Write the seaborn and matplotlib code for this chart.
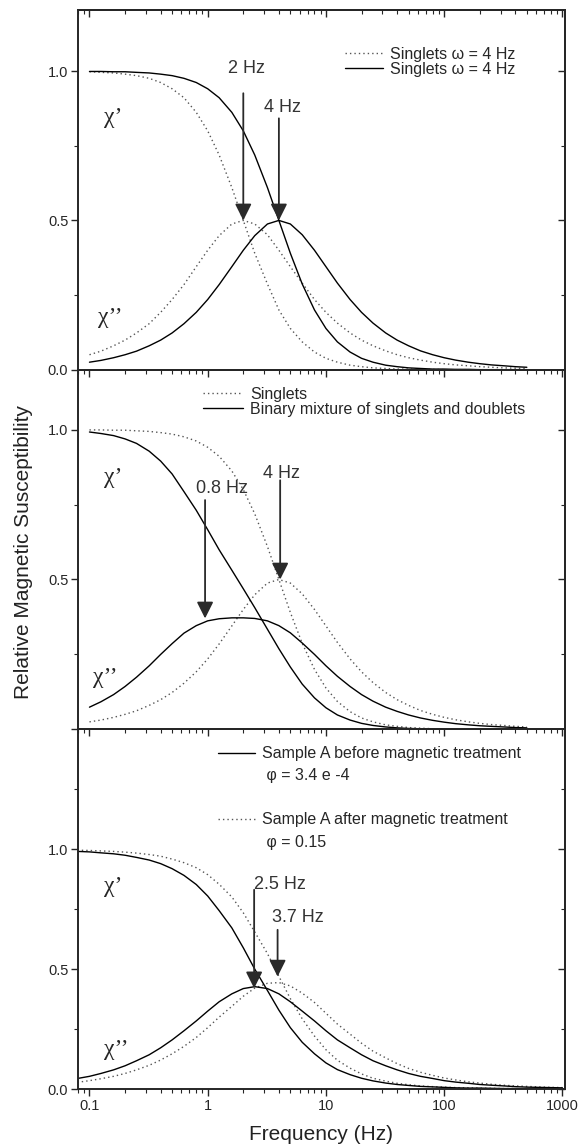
import numpy as np
import pandas as pd
import seaborn as sns
import matplotlib.pyplot as plt
from matplotlib.ticker import FixedLocator, LogLocator, NullFormatter, FuncFormatter
from matplotlib.lines import Line2D

# frequency grid (Hz) of the curves in the two upper panels
freq = [0.1, 0.125, 0.16, 0.2, 0.25, 0.32, 0.4, 0.5, 0.63, 0.8, 1, 1.25, 1.6, 2, 2.5, 3.2, 4, 5,
        6.3, 8, 10, 12.5, 16, 20, 25, 32, 40, 50, 63, 80, 100, 125, 160, 200, 250, 320, 400, 500]
# the bottom panel curves run from the left edge up to 1000 Hz
freq_b = [0.079] + freq + [630, 800, 1000]

# singlets, peak at 2 Hz (top panel, dotted)
s2_re = [0.998, 0.996, 0.994, 0.990, 0.985, 0.976, 0.962, 0.941, 0.911, 0.862, 0.800, 0.719, 0.610,
         0.500, 0.390, 0.287, 0.200, 0.138, 0.093, 0.059, 0.038, 0.025, 0.015, 0.010, 0.006, 0.004,
         0.002, 0.002, 0.001, 0.001, 0.000, 0.000, 0.000, 0.000, 0.000, 0.000, 0.000, 0.000]
s2_im = [0.050, 0.062, 0.080, 0.099, 0.123, 0.154, 0.192, 0.235, 0.285, 0.345, 0.400, 0.449, 0.488,
         0.500, 0.488, 0.452, 0.400, 0.345, 0.290, 0.235, 0.192, 0.156, 0.123, 0.099, 0.080, 0.063,
         0.050, 0.040, 0.032, 0.025, 0.020, 0.016, 0.013, 0.010, 0.008, 0.006, 0.005, 0.004]
# singlets, peak at 4 Hz (top panel solid, middle panel dotted)
s4_re = [0.999, 0.999, 0.998, 0.998, 0.996, 0.994, 0.990, 0.985, 0.976, 0.962, 0.941, 0.911, 0.862,
         0.800, 0.719, 0.610, 0.500, 0.390, 0.287, 0.200, 0.138, 0.093, 0.059, 0.038, 0.025, 0.015,
         0.010, 0.006, 0.004, 0.002, 0.002, 0.001, 0.001, 0.000, 0.000, 0.000, 0.000, 0.000]
s4_im = [0.025, 0.031, 0.040, 0.050, 0.062, 0.080, 0.099, 0.123, 0.154, 0.192, 0.235, 0.285, 0.345,
         0.400, 0.449, 0.488, 0.500, 0.488, 0.452, 0.400, 0.345, 0.290, 0.235, 0.192, 0.156, 0.123,
         0.099, 0.080, 0.063, 0.050, 0.040, 0.032, 0.025, 0.020, 0.016, 0.013, 0.010, 0.008]
# binary mixture of singlets and doublets (middle panel, solid)
mix_re = [0.992, 0.987, 0.980, 0.969, 0.954, 0.928, 0.895, 0.852, 0.793, 0.731, 0.666, 0.599, 0.531,
          0.469, 0.406, 0.334, 0.269, 0.208, 0.151, 0.105, 0.072, 0.048, 0.031, 0.020, 0.013, 0.008,
          0.005, 0.003, 0.002, 0.001, 0.001, 0.000, 0.000, 0.000, 0.000, 0.000, 0.000, 0.000]
mix_im = [0.074, 0.092, 0.116, 0.143, 0.174, 0.212, 0.250, 0.286, 0.321, 0.346, 0.362, 0.369, 0.372,
          0.372, 0.370, 0.362, 0.346, 0.322, 0.288, 0.250, 0.212, 0.177, 0.143, 0.116, 0.094, 0.074,
          0.060, 0.048, 0.038, 0.030, 0.024, 0.019, 0.015, 0.012, 0.010, 0.008, 0.006, 0.005]
# sample A before magnetic treatment (bottom panel, solid)
before_re = [0.991, 0.989, 0.985, 0.981, 0.975, 0.966, 0.955, 0.940, 0.919, 0.891, 0.853, 0.805,
             0.744, 0.672, 0.589, 0.500, 0.411, 0.329, 0.256, 0.195, 0.147, 0.109, 0.081, 0.060,
             0.045, 0.034, 0.025, 0.019, 0.015, 0.011, 0.009, 0.007, 0.005, 0.004, 0.004, 0.003,
             0.002, 0.002, 0.001, 0.001, 0.001, 0.001]
before_im = [0.044, 0.053, 0.065, 0.080, 0.097, 0.118, 0.143, 0.172, 0.205, 0.243, 0.284, 0.325,
             0.364, 0.397, 0.419, 0.427, 0.419, 0.397, 0.364, 0.325, 0.284, 0.243, 0.205, 0.172,
             0.143, 0.118, 0.097, 0.080, 0.065, 0.053, 0.044, 0.035, 0.029, 0.024, 0.019, 0.016,
             0.013, 0.010, 0.008, 0.007, 0.006, 0.005]
# sample A after magnetic treatment (bottom panel, dotted)
after_re = [0.996, 0.995, 0.993, 0.991, 0.988, 0.984, 0.978, 0.971, 0.959, 0.944, 0.923, 0.894,
            0.854, 0.801, 0.735, 0.655, 0.565, 0.470, 0.377, 0.293, 0.221, 0.164, 0.120, 0.087,
            0.063, 0.045, 0.033, 0.024, 0.018, 0.013, 0.010, 0.008, 0.006, 0.005, 0.004, 0.003,
            0.002, 0.002, 0.001, 0.001, 0.001, 0.001]
after_im = [0.028, 0.035, 0.043, 0.053, 0.065, 0.080, 0.099, 0.121, 0.147, 0.178, 0.215, 0.256,
            0.300, 0.345, 0.387, 0.421, 0.441, 0.444, 0.430, 0.400, 0.361, 0.316, 0.271, 0.229,
            0.191, 0.158, 0.130, 0.106, 0.086, 0.070, 0.057, 0.046, 0.038, 0.030, 0.025, 0.020,
            0.016, 0.013, 0.011, 0.009, 0.007, 0.006]

legend_top = ["Singlets \u03c9 = 4 Hz", "Singlets \u03c9 = 4 Hz"]
legend_mid = ["Singlets", "Binary mixture of singlets and doublets"]
legend_bot = ["Sample A before magnetic treatment", " \u03c6 = 3.4 e -4",
              "Sample A after magnetic treatment", " \u03c6 = 0.15"]

# arrows: (frequency, tail, tip, label, label x, label y)
arrows_top = [(2.0, 0.926, 0.50, "2 Hz", 2.12, 1.01), (4.0, 0.842, 0.50, "4 Hz", 4.33, 0.879)]
arrows_mid = [(0.95, 0.765, 0.37, "0.8 Hz", 1.32, 0.805), (4.1, 0.831, 0.50, "4 Hz", 4.24, 0.855)]
arrows_bot = [(2.47, 0.831, 0.42, "2.5 Hz", 4.08, 0.852), (3.9, 0.664, 0.469, "3.7 Hz", 5.78, 0.714)]

sns.set_style("ticks")
plt.rcParams["font.family"] = ["Liberation Sans", "DejaVu Sans"]

fig, axes = plt.subplots(3, 1, figsize=(5.8, 11.46), dpi=100, sharex=True)
fig.subplots_adjust(left=0.1345, right=0.974, top=0.9913, bottom=0.0497, hspace=0)

solid = dict(color="black", linewidth=1.0)
dotted = dict(color="#555555", linewidth=1.0, linestyle=(0, (1, 2.2)))


def draw(ax, x, re, im, style):
    sns.lineplot(x=x, y=re, ax=ax, sort=False, estimator=None, **style)
    sns.lineplot(x=x, y=im, ax=ax, sort=False, estimator=None, **style)


def style_axis(ax, ylim, major, minor, labels):
    ax.set_xscale("log")
    ax.set_xlim(0.08, 1050)
    ax.set_ylim(*ylim)
    ax.yaxis.set_major_locator(FixedLocator(major))
    ax.yaxis.set_minor_locator(FixedLocator(minor))
    ax.set_yticklabels(labels)
    ax.xaxis.set_major_locator(LogLocator(base=10, numticks=10))
    ax.xaxis.set_minor_locator(LogLocator(base=10, subs=np.arange(2, 10), numticks=20))
    ax.xaxis.set_minor_formatter(NullFormatter())
    ax.tick_params(which="major", direction="out", length=5, width=1.0, labelsize=10.5, pad=2)
    ax.tick_params(which="minor", direction="out", length=3, width=0.8)
    for sp in ax.spines.values():
        sp.set_visible(True)
        sp.set_linewidth(1.4)
    top = ax.secondary_xaxis("top")
    top.set_xscale("log")
    top.xaxis.set_major_locator(LogLocator(base=10, numticks=10))
    top.xaxis.set_minor_locator(LogLocator(base=10, subs=np.arange(2, 10), numticks=20))
    top.xaxis.set_major_formatter(NullFormatter())
    top.xaxis.set_minor_formatter(NullFormatter())
    top.tick_params(which="major", direction="in", length=5, width=1.0)
    top.tick_params(which="minor", direction="in", length=3, width=0.8)
    top.spines["top"].set_linewidth(1.4)
    right = ax.secondary_yaxis("right")
    right.yaxis.set_major_locator(FixedLocator(major))
    right.yaxis.set_minor_locator(FixedLocator(minor))
    right.yaxis.set_major_formatter(NullFormatter())
    right.tick_params(which="major", direction="in", length=5, width=1.0)
    right.tick_params(which="minor", direction="in", length=3, width=0.8)
    right.spines["right"].set_linewidth(1.4)


def annotate(ax, arrows):
    for f, tail, tip, text, tx, ty in arrows:
        ax.annotate("", xy=(f, tip), xytext=(f, tail),
                    arrowprops=dict(arrowstyle="-|>,head_length=1.0,head_width=0.5",
                                    color="#2a2a2a", lw=1.3, shrinkA=0, shrinkB=0,
                                    mutation_scale=10))
        ax.text(tx, ty, text, ha="center", va="center", fontsize=13, color="#333333")


def chi_labels(ax, p1, p2):
    ax.text(p1[0], p1[1], "\u03c7\u2019", fontsize=17, family="Liberation Serif",
            ha="center", va="center")
    ax.text(p2[0], p2[1], "\u03c7\u2019\u2019", fontsize=17, family="Liberation Serif",
            ha="center", va="center")


leg_kw = dict(loc="upper left", frameon=False, fontsize=11.5, borderpad=0, borderaxespad=0,
              handletextpad=0.45)

# top panel
ax = axes[0]
draw(ax, freq, s2_re, s2_im, dotted)
draw(ax, freq, s4_re, s4_im, solid)
style_axis(ax, (0, 1.205), [0, 0.5, 1.0], [0.25, 0.75], ["0.0", "0.5", "1.0"])
annotate(ax, arrows_top)
chi_labels(ax, (0.158, 0.846), (0.149, 0.175))
ax.legend([Line2D([], [], **dotted), Line2D([], [], **solid)], legend_top,
          bbox_to_anchor=(0.548, 0.898), handlelength=2.4, labelspacing=0.0, **leg_kw)

# middle panel
ax = axes[1]
draw(ax, freq, s4_re, s4_im, dotted)
draw(ax, freq, mix_re, mix_im, solid)
style_axis(ax, (0, 1.2), [0, 0.5, 1.0], [0.25, 0.75], ["", "0.5", "1.0"])
annotate(ax, arrows_mid)
chi_labels(ax, (0.158, 0.841), (0.136, 0.174))
ax.legend([Line2D([], [], **dotted), Line2D([], [], **solid)], legend_mid,
          bbox_to_anchor=(0.257, 0.953), handlelength=2.5, labelspacing=0.0, **leg_kw)

# bottom panel
ax = axes[2]
draw(ax, freq_b, after_re, after_im, dotted)
draw(ax, freq_b, before_re, before_im, solid)
style_axis(ax, (0, 1.5), [0, 0.5, 1.0], [0.25, 0.75, 1.25], ["0.0", "0.5", "1.0"])
ax.xaxis.set_major_formatter(FuncFormatter(lambda v, p: f"{v:g}"))
annotate(ax, arrows_bot)
chi_labels(ax, (0.158, 0.845), (0.17, 0.163))
blank = Line2D([], [], linestyle="none")
leg1 = ax.legend([Line2D([], [], **solid), blank], legend_bot[:2],
                 bbox_to_anchor=(0.2875, 0.953), handlelength=2.3, labelspacing=0.45, **leg_kw)
ax.add_artist(leg1)
ax.legend([Line2D([], [], **dotted), blank], legend_bot[2:],
          bbox_to_anchor=(0.2875, 0.769), handlelength=2.3, labelspacing=0.45, **leg_kw)
ax.set_xlabel("Frequency (Hz)", fontsize=15, color="#222222", labelpad=9)

fig.text(0.04, 1 - 552 / 1146, "Relative Magnetic Susceptibility", rotation=90,
         ha="center", va="center", fontsize=15, color="#222222")

fig.savefig("out.png", dpi=100)
